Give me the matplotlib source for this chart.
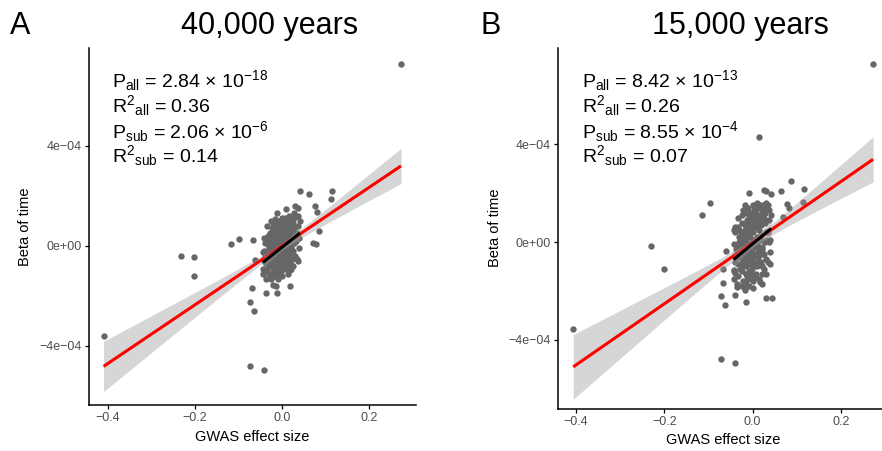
import numpy as np
import matplotlib
matplotlib.use("Agg")
import matplotlib.pyplot as plt
from matplotlib.ticker import FuncFormatter, FixedLocator

plt.rcParams['font.family'] = ['Liberation Sans', 'DejaVu Sans']
plt.rcParams['mathtext.fontset'] = 'custom'
plt.rcParams['mathtext.rm'] = 'Liberation Sans'
plt.rcParams['mathtext.it'] = 'Liberation Sans:italic'
plt.rcParams['mathtext.bf'] = 'Liberation Sans:bold'

# ---------------- data ----------------
panel_letters = ["A", "B"]
panel_titles = ["40,000 years", "15,000 years"]
x_label = "GWAS effect size"
y_label = "Beta of time"
x_ticks = [-0.4, -0.2, 0.0, 0.2]
y_ticks = [-4e-4, 0.0, 4e-4]

# ---- panel A (beta values in units of 1e-4) ----
gwas_A_outer = [0.274, -0.409, -0.231, -0.201, -0.201, -0.117, -0.098, -0.067, -0.061, -0.068,
                -0.073, -0.064, -0.073, -0.041, -0.037, -0.014, -0.011, 0.019, 0.042, 0.063,
                0.115, 0.113, 0.076, 0.080, 0.086, 0.073, 0.078, 0.038, -0.042, 0.011,
                -0.015, 0.017, 0.019, 0.008, -0.019]
beta_A_outer_e4 = [7.28, -3.60, -0.40, -0.43, -1.20, 0.07, 0.28, 0.24, -0.56, -1.69,
                   -2.24, -2.61, -4.80, -4.96, -1.88, -1.59, -1.87, -1.59, 2.19, 2.08,
                   2.19, 1.87, 1.60, 1.36, 0.61, 0.13, 0.08, -0.60, -0.25, 1.47,
                   1.07, 1.20, -0.96, -0.83, -1.56]

# dense central cluster (x positions shared by both panels)
gwas_core = [-0.043, -0.041, -0.040, -0.039, -0.042, -0.038, -0.040, -0.037,
             -0.034, -0.033, -0.031, -0.032, -0.030, -0.035, -0.033, -0.031, -0.029, -0.034, -0.032, -0.030,
             -0.026, -0.025, -0.023, -0.024, -0.022, -0.027, -0.025, -0.023, -0.021, -0.026, -0.024, -0.022,
             -0.025, -0.023, -0.027, -0.021,
             -0.018, -0.017, -0.015, -0.016, -0.014, -0.019, -0.017, -0.015, -0.013, -0.018, -0.016, -0.014,
             -0.017, -0.015, -0.019, -0.013, -0.016, -0.018, -0.014, -0.015,
             -0.010, -0.009, -0.007, -0.008, -0.006, -0.011, -0.009, -0.007, -0.005, -0.010, -0.008, -0.006,
             -0.009, -0.007, -0.011, -0.005, -0.008, -0.010, -0.006, -0.007, -0.009, -0.004,
             -0.001, 0.000, 0.002, 0.001, 0.003, -0.002, 0.000, 0.002, 0.004, -0.001, 0.001, 0.003,
             0.000, 0.002, -0.002, 0.004, 0.001, -0.001, 0.003, 0.002, 0.000, 0.005,
             0.009, 0.010, 0.012, 0.011, 0.013, 0.008, 0.010, 0.012, 0.014, 0.009, 0.011, 0.013,
             0.010, 0.012, 0.008, 0.014, 0.011, 0.009, 0.013, 0.012,
             0.018, 0.019, 0.021, 0.020, 0.022, 0.017, 0.019, 0.021, 0.023, 0.018, 0.020, 0.022,
             0.019, 0.021, 0.017, 0.023,
             0.027, 0.028, 0.030, 0.029, 0.031, 0.026, 0.028, 0.030, 0.032, 0.027, 0.029, 0.031,
             0.036, 0.037, 0.039, 0.038, 0.040, 0.035, 0.041, 0.037]
beta_A_core_e4 = [-0.9, -0.2, -0.6, 0.1, -1.1, -0.4, 0.3, -0.7,
                  -0.3, -1.0, 0.4, -0.6, 0.0, -1.3, 0.8, -0.8, -0.1, 0.2, -0.5, -1.1,
                  0.5, -0.7, -0.2, 1.0, -1.1, 0.1, -0.4, 0.7, -0.9, 0.3, -0.1, -0.7,
                  -1.3, 0.0, -0.6, 0.9,
                  -0.3, 0.6, -0.9, 0.2, -0.9, -0.5, 0.0, -1.2, 0.8, -0.1, 0.4, -0.7,
                  -0.6, -0.3, 0.3, -1.0, 0.9, -0.6, 0.1, 0.5,
                  0.2, -0.6, 1.0, -0.2, 0.5, -1.1, 0.7, -0.4, 0.0, 1.3, -0.8, 0.3,
                  -0.1, 0.9, -0.5, -0.5, -1.3, 0.4, -0.3, 0.6, -0.3, -0.9,
                  0.1, -0.7, 0.8, -0.3, -0.8, -1.0, 0.4, -0.1, 0.6, -0.5, -0.5, 0.2,
                  -1.2, 0.9, -0.2, 0.0, 1.1, -0.8, 0.5, -0.4, -0.2, 0.3,
                  0.3, -0.5, 1.0, 0.0, 0.7, -0.9, -0.7, -0.2, 0.5, -0.4, -0.7, 0.2,
                  0.9, -0.4, 1.1, -1.1, 0.6, 0.1, -0.6, -0.1,
                  0.6, -0.3, -0.8, 0.2, -0.7, 0.9, 0.4, -0.1, -0.5, -0.5, 0.7, 0.0,
                  1.0, -0.9, 0.3, 0.8,
                  0.9, 0.1, -0.4, 1.3, 0.5, -0.8, 0.7, 1.6, 0.2, -0.2, 1.1, 0.4,
                  0.5, 1.2, -0.1, 0.8, 0.3, -0.5, 1.0, 1.5]

# ---- panel B ----
gwas_B_outer = [0.273, -0.406, 0.014, -0.230, -0.200, -0.115, -0.097, -0.009, 0.025, 0.031,
                0.042, 0.064, 0.088, 0.116, 0.078, 0.082, 0.114, 0.070, -0.060, -0.066,
                -0.067, -0.072, -0.062, -0.035, -0.014, 0.031, 0.045, 0.040, 0.017, 0.021,
                -0.071, -0.039, -0.013, -0.041, -0.041, 0.036, 0.017, -0.039, -0.039, -0.017,
                0.008]
beta_B_outer_e4 = [7.29, -3.57, 4.29, -0.16, -1.10, 1.10, 1.58, 1.99, 2.15, 2.08,
                   1.96, 2.08, 2.49, 2.18, 1.55, 1.38, 1.65, 1.04, -0.37, -1.12,
                   -1.69, -2.20, -2.58, -1.83, -2.45, -2.31, -2.31, -0.91, -1.63, -1.72,
                   -4.81, -4.97, -1.80, 0.49, -1.15, 1.52, 1.52, -1.28, -2.17, -1.97,
                   -1.42]
beta_B_core_e4 = [-1.2, -0.1, -0.8, 0.4, -1.5, -0.5, 0.6, -0.3,
                  -0.6, -1.4, 0.5, -0.9, 0.2, -1.7, 1.0, -0.2, -1.1, 0.6, -0.4, 0.0,
                  0.4, -1.2, -0.3, 1.1, -1.6, 0.2, -0.7, 0.8, -1.0, -0.1, -0.5, 1.3,
                  -1.8, 0.0, -0.9, -0.2,
                  -0.6, 0.7, -1.3, 0.1, 1.2, -0.8, -0.2, -1.6, 0.9, -0.4, 0.5, -1.0,
                  1.5, -0.5, 0.3, -1.4, -0.2, -0.9, -0.1, 0.0,
                  0.3, -0.9, 1.2, -0.4, 0.6, -1.5, 0.9, -0.7, -0.1, 1.4, -1.2, 0.2,
                  -0.3, 1.0, -0.8, 0.5, -1.8, 0.5, -0.5, 0.7, -0.2, -1.3,
                  0.0, -1.0, 0.9, -0.5, 1.3, -1.4, 0.4, -0.2, 0.7, -0.8, 1.5, 0.1,
                  -1.6, 1.0, -0.3, -0.1, 1.2, -1.1, 0.6, -0.6, -1.9, 1.4,
                  0.2, -0.8, 1.1, -0.1, 0.8, -1.3, 1.4, -0.4, 0.5, 1.6, -1.0, 0.1,
                  0.9, -0.6, 1.2, -1.5, 0.6, -0.2, -0.9, -0.4,
                  0.7, -0.5, 1.3, 0.1, -1.0, 1.0, 0.3, -0.3, 1.5, -0.8, 0.8, -0.2,
                  1.1, -1.3, 0.2, -0.5,
                  1.0, 0.0, -0.7, 1.4, 0.4, -1.1, 0.8, 1.6, 0.1, -0.5, 1.2, -1.3,
                  0.4, 1.3, -0.4, 0.9, 0.1, -0.8, 1.1, 0.0]

subset_cutoff = 0.045   # |GWAS effect| defining the "sub" set

stats_A = ["2.84", "-18", "0.36", "2.06", "-6", "0.14"]
stats_B = ["8.42", "-13", "0.26", "8.55", "-4", "0.07"]

# ---------------- layout ----------------
W, H = 882, 451
fig = plt.figure(figsize=(W / 100, H / 100), dpi=100)


def px_axes(l, t, r, b):
    return fig.add_axes([l / W, 1 - b / H, (r - l) / W, (b - t) / H])


def lm_band(x, y, xs):
    n = len(x)
    xm = x.mean()
    b, a = np.polyfit(x, y, 1)
    res = y - (a + b * x)
    s = np.sqrt((res ** 2).sum() / (n - 2))
    sxx = ((x - xm) ** 2).sum()
    se = s * np.sqrt(1.0 / n + (xs - xm) ** 2 / sxx)
    fit = a + b * xs
    return fit, fit - 1.97 * se, fit + 1.97 * se


def fmt_y(v, pos):
    return f"{v:.0e}".replace("-", "\u2212")


def fmt_x(v, pos):
    return f"{v:.1f}".replace("-", "\u2212")


def draw_panel(box, xvals, yvals_e4, xlim, ylim):
    ax = px_axes(*box)
    x = np.asarray(xvals, dtype=float)
    y = np.asarray(yvals_e4, dtype=float) * 1e-4
    ax.scatter(x, y, s=21, c="#666666", linewidths=0, zorder=2)

    xs = np.linspace(x.min(), x.max(), 200)
    f, lo, hi = lm_band(x, y, xs)
    ax.fill_between(xs, lo, hi, color="#999999", alpha=0.4, lw=0, zorder=3)
    ax.plot(xs, f, color="red", lw=2.2, zorder=4, solid_capstyle="butt")

    m = np.abs(x) < subset_cutoff
    xsub, ysub = x[m], y[m]
    xs2 = np.linspace(xsub.min(), xsub.max(), 100)
    f2, lo2, hi2 = lm_band(xsub, ysub, xs2)
    ax.fill_between(xs2, lo2, hi2, color="#999999", alpha=0.4, lw=0, zorder=5)
    ax.plot(xs2, f2, color="black", lw=2.2, zorder=6, solid_capstyle="butt")

    ax.set_xlim(*xlim)
    ax.set_ylim(*ylim)
    ax.xaxis.set_major_locator(FixedLocator(x_ticks))
    ax.yaxis.set_major_locator(FixedLocator(y_ticks))
    ax.xaxis.set_major_formatter(FuncFormatter(fmt_x))
    ax.yaxis.set_major_formatter(FuncFormatter(fmt_y))
    for sp in ["top", "right"]:
        ax.spines[sp].set_visible(False)
    for sp in ["left", "bottom"]:
        ax.spines[sp].set_linewidth(1.1)
        ax.spines[sp].set_color("black")
    ax.tick_params(direction="out", length=3.0, width=0.9, color="black",
                   labelcolor="#4D4D4D", labelsize=9, pad=2.0)
    ax.patch.set_alpha(0)
    return ax


def stat_lines(st):
    return [
        r"P$_{\mathrm{all}}$ = " + st[0] + " \u00d7 10$^{" + st[1] + "}$",
        r"R$^{2}{}_{\mathrm{all}}$ = " + st[2],
        r"P$_{\mathrm{sub}}$ = " + st[3] + " \u00d7 10$^{" + st[4] + "}$",
        r"R$^{2}{}_{\mathrm{sub}}$ = " + st[5],
    ]


gwas_A = gwas_A_outer + gwas_core
beta_A_e4 = beta_A_outer_e4 + beta_A_core_e4
gwas_B = gwas_B_outer + gwas_core
beta_B_e4 = beta_B_outer_e4 + beta_B_core_e4

axA = draw_panel((89, 48, 416, 405), gwas_A, beta_A_e4,
                 (-0.4425, 0.3084), (-6.36e-4, 7.92e-4))
axB = draw_panel((558, 48, 889, 409), gwas_B, beta_B_e4,
                 (-0.4406, 0.309), (-6.84e-4, 7.95e-4))

baselines = [87.5, 112.5, 138.5, 162.5]
for x0, st in [(112.5, stats_A), (581.5, stats_B)]:
    for yb, txt in zip(baselines, stat_lines(st)):
        fig.text(x0 / W, 1 - yb / H, txt, fontsize=14, va="baseline", ha="left",
                 color="black")

for xl, xt, letter, title in [(10, 270, panel_letters[0], panel_titles[0]),
                              (480, 740, panel_letters[1], panel_titles[1])]:
    fig.text(xl / W, 1 - 34 / H, letter, fontsize=22, va="baseline", ha="left")
    fig.text(xt / W, 1 - 34 / H, title, fontsize=22, va="baseline", ha="center")

for xc, yc in [(25, 227), (495, 228)]:
    fig.text(xc / W, 1 - yc / H, y_label, rotation=90, fontsize=10.5,
             ha="center", va="center")
for xc, yc in [(252, 437), (723, 440)]:
    fig.text(xc / W, 1 - yc / H, x_label, fontsize=10.5, ha="center", va="center")

fig.savefig("out.png", dpi=100)
